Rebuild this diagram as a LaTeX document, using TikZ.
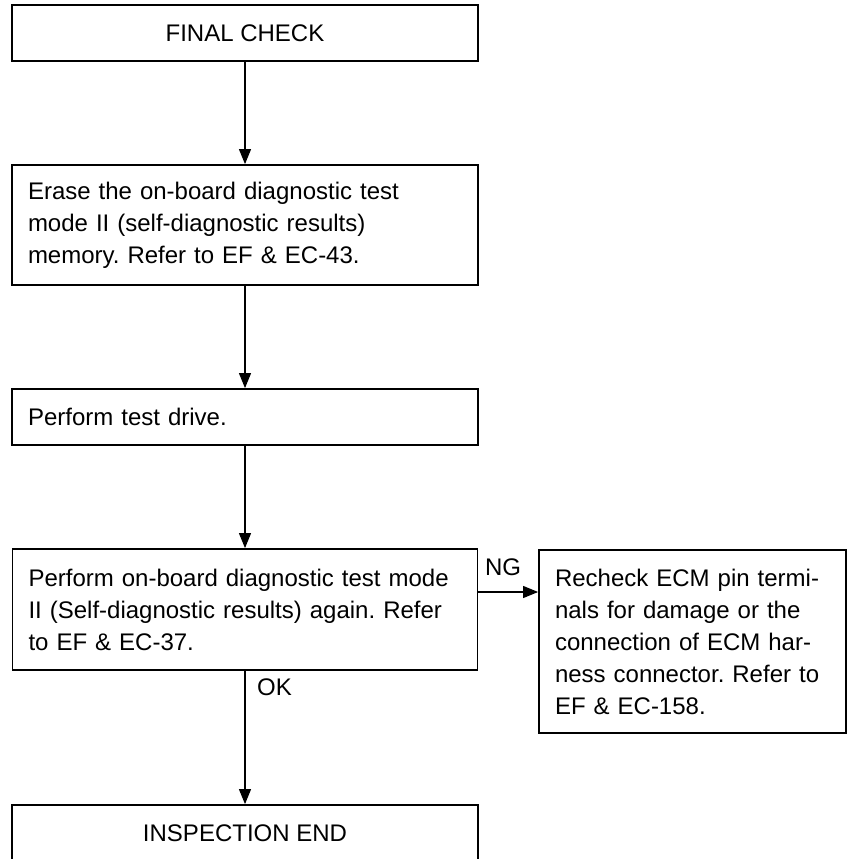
\documentclass[tikz,border=0pt]{standalone}
\usepackage{fontspec}
\setmainfont{Liberation Sans}
\usetikzlibrary{arrows.meta}
\begin{document}
\frenchspacing
\begin{tikzpicture}[x=1pt,y=-1pt,
  stepbox/.style={draw,line width=1.8pt,rectangle,align=left,
    inner xsep=16pt,inner ysep=0pt,anchor=center,
    font=\fontsize{24}{32}\selectfont},
  titlebox/.style={stepbox,align=center},
  flow/.style={line width=1.1pt,-{Triangle[length=15pt,width=12pt]}},
  tag/.style={font=\fontsize{24}{32}\selectfont,inner sep=0pt}]
  \useasboundingbox (0,0) rectangle (848,859);
  \clip (0,0) rectangle (848,859);

  % main column of steps
  \node[titlebox,minimum width=466pt,minimum height=56pt] (final) at (245,33) {FINAL CHECK};
  \node[stepbox,minimum width=466pt,minimum height=120pt,text width=434pt] (erase) at (245,225)
    {Erase the on-board diagnostic test\\mode II (self-diagnostic results)\\memory. Refer to EF \& EC-43.};
  \node[stepbox,minimum width=466pt,minimum height=56pt,text width=434pt] (drive) at (245,417)
    {Perform test drive.};
  \node[stepbox,minimum width=465pt,minimum height=121pt,text width=433pt] (mode) at (245,609.5)
    {Perform on-board diagnostic test mode\\II (Self-diagnostic results) again. Refer\\to EF \& EC-37.};
  \node[stepbox,minimum width=307pt,minimum height=183pt,text width=275pt] (recheck) at (692.5,641.5)
    {Recheck ECM pin termi-\\nals for damage or the\\connection of ECM har-\\ness connector. Refer to\\EF \& EC-158.};
  \node[titlebox,minimum width=466pt,minimum height=56pt] (done) at (245,833) {INSPECTION END};

  % connectors
  \draw[flow] (final.south) -- (erase.north);
  \draw[flow] (erase.south) -- (drive.north);
  \draw[flow] (drive.south) -- (mode.north);
  \draw[flow] ([yshift=17.5pt]mode.east) coordinate (ngstart) -- (ngstart -| recheck.west);
  \draw[flow] (mode.south) -- (done.north);

  % branch labels
  \node[tag] (ng) at (503,567) {NG};
  \node[tag,anchor=west] (ok) at (257,687) {OK};
\end{tikzpicture}
\end{document}
